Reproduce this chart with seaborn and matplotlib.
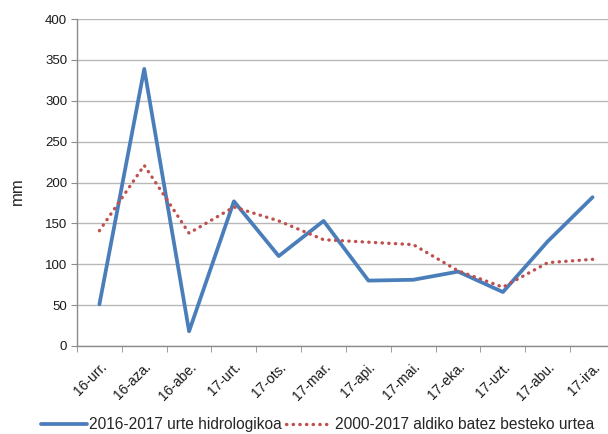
import matplotlib
matplotlib.use("Agg")
import matplotlib.pyplot as plt
import matplotlib.transforms as mtrans
import seaborn as sns
import pandas as pd
import numpy as np

months = ["16-urr.", "16-aza.", "16-abe.", "17-urt.", "17-ots.", "17-mar.",
          "17-api.", "17-mai.", "17-eka.", "17-uzt.", "17-abu.", "17-ira."]
hydro_2016_2017 = [51, 339, 18, 177, 110, 153, 80, 81, 91, 66, 128, 182]
mean_2000_2017 = [141, 221, 138, 170, 153, 130, 127, 124, 92, 72, 102, 106]

label_a = "2016-2017 urte hidrologikoa"
label_b = "2000-2017 aldiko batez besteko urtea"

df = pd.DataFrame({"month": months * 2,
                   "mm": hydro_2016_2017 + mean_2000_2017,
                   "serie": [label_a] * 12 + [label_b] * 12})

sns.set_style("white")
plt.rcParams["font.family"] = ["Liberation Sans", "DejaVu Sans"]

fig = plt.figure(figsize=(6.08, 4.34), dpi=100)
ax = fig.add_axes([77 / 608, 88 / 434, 538 / 608, 327 / 434])

sns.lineplot(data=df[df.serie == label_a], x="month", y="mm", ax=ax,
             color="#4A7EBB", lw=2.7, label=label_a, sort=False)
sns.lineplot(data=df[df.serie == label_b], x="month", y="mm", ax=ax,
             color="#C0504D", lw=2.4, ls=(0, (0.1, 1.9)),
             dash_capstyle="round", label=label_b, sort=False)

ax.set_xlim(-0.5, 11.5)
ax.set_ylim(0, 400)
ax.set_yticks(np.arange(0, 401, 50))
ax.yaxis.grid(True, color="#B8B8B8", lw=1)
ax.set_axisbelow(True)
for s in ["top", "right"]:
    ax.spines[s].set_visible(False)
for s in ["left", "bottom"]:
    ax.spines[s].set_color("#8C8C8C")
    ax.spines[s].set_linewidth(1)

ax.set_xticks(range(12))
ax.set_xticklabels(months, rotation=45, ha="right", va="top",
                   rotation_mode="anchor", fontsize=10, color="#1a1a1a")
shift = mtrans.ScaledTranslation(6 / 100, 0, fig.dpi_scale_trans)
for lab in ax.get_xticklabels():
    lab.set_transform(lab.get_transform() + shift)
ax.set_xticks(np.arange(-0.5, 12, 1), minor=True)
ax.tick_params(axis="x", which="major", length=0, pad=10)
ax.tick_params(axis="x", which="minor", length=4, color="#8C8C8C", direction="out")
ax.tick_params(axis="y", length=4, color="#8C8C8C", direction="out", pad=3,
               labelsize=9.5, labelcolor="#1a1a1a")
ax.tick_params(bottom=True, left=True, which="both")
ax.set_xlabel("")
ax.set_ylabel("mm", fontsize=12, va="center")
ax.yaxis.set_label_coords(-0.1106, 0.4725)

ax.get_legend().remove()
handles, labels = ax.get_legend_handles_labels()
fig.legend(handles, labels, loc="center", bbox_to_anchor=(0.522, 0.022),
           ncol=2, frameon=False, fontsize=11.2, handlelength=2.95,
           columnspacing=0.3, handletextpad=0.15, borderpad=0)

fig.savefig("out.png", dpi=100)
